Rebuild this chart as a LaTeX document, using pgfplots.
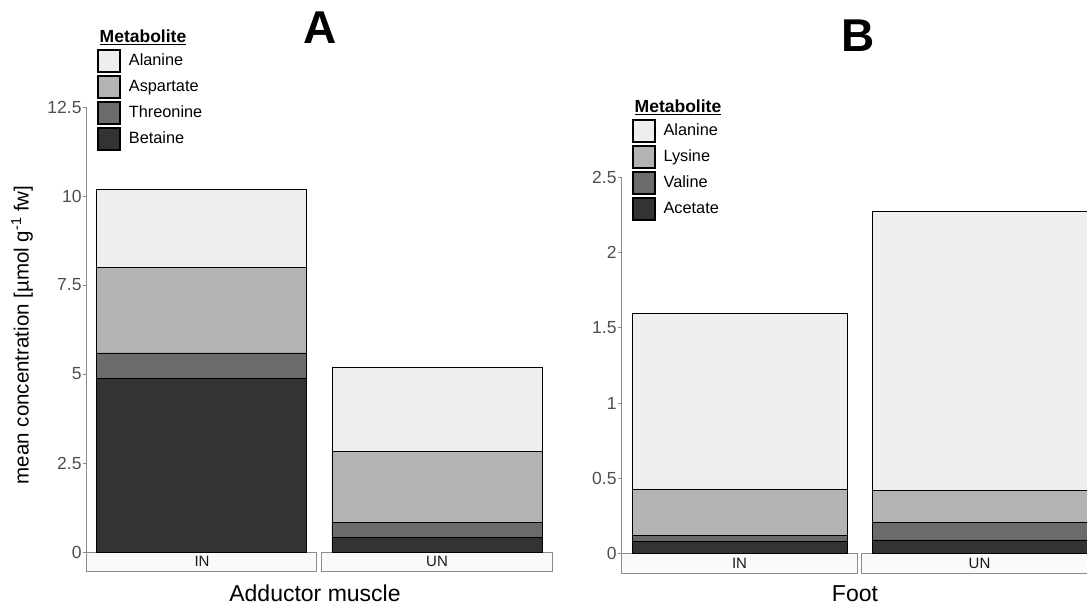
\documentclass[border=0pt]{standalone}
\usepackage{fontspec}
\setmainfont{Liberation Sans}
\usepackage{pgfplots}
\pgfplotsset{compat=1.18}

\definecolor{ala}{HTML}{EEEEEE}
\definecolor{mid}{HTML}{B3B3B3}
\definecolor{dk}{HTML}{6B6B6B}
\definecolor{vdk}{HTML}{333333}
\definecolor{axgray}{HTML}{8C8C8C}
\definecolor{ticktext}{HTML}{4D4D4D}
\definecolor{stripfill}{HTML}{FAFAFA}
\definecolor{striptext}{HTML}{1A1A1A}

\newcommand{\ticksize}{\fontsize{17.5}{20}\selectfont}
\newcommand{\legsize}{\fontsize{16.3}{19}\selectfont}
\newcommand{\labsize}{\fontsize{20.5}{24}\selectfont}
\newcommand{\xlabsize}{\fontsize{23}{27}\selectfont}
\newcommand{\stripsize}{\fontsize{15}{17}\selectfont}

\tikzset{
  strip/.style={draw=axgray, fill=stripfill, line width=0.8pt},
  striplab/.style={font=\stripsize, text=striptext, inner sep=0pt},
}

\pgfplotsset{
  panel/.style={
    scale only axis, anchor=south west,
    ybar stacked, ymin=0, enlargelimits=false,
    axis x line=none, axis y line*=left,
    y axis line style={axgray, line width=0.8pt},
    ytick style={axgray, line width=0.8pt},
    tick align=outside, major tick length=3.5pt,
    yticklabel style={font=\ticksize, text=ticktext, inner sep=1.5pt},
    /pgf/number format/assume math mode=true,
    clip=false,
    every axis plot/.append style={draw=black, line width=0.8pt},
    reverse legend, legend cell align=left,
    legend style={draw=none, fill=none, inner sep=0pt, row sep=2pt,
      column sep=8pt, font=\legsize, nodes={inner sep=0pt}},
    legend image code/.code={
      \draw[#1, draw=black, line width=2pt] (0pt,-11.5pt) rectangle (21.7pt,10.5pt);},
  },
}

\begin{document}
\begin{tikzpicture}
\useasboundingbox (0,0) rectangle (1087pt,605pt);

% panel A: adductor muscle
\begin{axis}[panel, at={(86.7pt,53pt)}, width=465.3pt, height=445pt,
  xmin=0.5106, xmax=2.4894, ymax=12.5, ytick={0,2.5,5,7.5,10,12.5},
  bar width=210pt,
  ylabel={mean concentration [µmol g\textsuperscript{-1} fw]},
  ylabel style={font=\labsize, at={(axis description cs:-0.139,0.488)}, anchor=center},
  legend style={at={(axis description cs:0.0221,1.1303)}, anchor=north west}]
\addplot[fill=vdk] coordinates {(1,4.88) (2,0.40)};
\addplot[fill=dk] coordinates {(1,0.71) (2,0.43)};
\addplot[fill=mid] coordinates {(1,2.40) (2,2.00)};
\addplot[fill=ala] coordinates {(1,2.20) (2,2.36)};
\legend{Betaine,Threonine,Aspartate,Alanine}
\draw[strip] (axis cs:0.5106,0) rectangle ([yshift=-19.3pt]axis cs:1.4894,0);
\draw[strip] (axis cs:1.5106,0) rectangle ([yshift=-19.3pt]axis cs:2.4894,0);
\end{axis}

% panel B: foot
\begin{axis}[panel, at={(621.7pt,51.3pt)}, width=475.7pt, height=376.4pt,
  xmin=0.509, xmax=2.491, ymax=2.5, ytick={0,0.5,1,1.5,2,2.5},
  bar width=215pt,
  legend style={at={(axis description cs:0.021,1.1549)}, anchor=north west}]
\addplot[fill=vdk] coordinates {(1,0.080) (2,0.091)};
\addplot[fill=dk] coordinates {(1,0.044) (2,0.117)};
\addplot[fill=mid] coordinates {(1,0.300) (2,0.215)};
\addplot[fill=ala] coordinates {(1,1.175) (2,1.853)};
\legend{Acetate,Valine,Lysine,Alanine}
\draw[strip] (axis cs:0.509,0) rectangle ([yshift=-19.6pt]axis cs:1.491,0);
\draw[strip] (axis cs:1.509,0) rectangle ([yshift=-19.6pt]axis cs:2.491,0);
\end{axis}

% strip labels
\node[striplab] at (202pt,43.35pt) {IN};
\node[striplab] at (437pt,43.35pt) {UN};
\node[striplab] at (739.5pt,41.5pt) {IN};
\node[striplab] at (979.5pt,41.5pt) {UN};

% titles and labels
\node[font=\bfseries\fontsize{46}{50}\selectfont, inner sep=0pt] at (320pt,577.5pt) {A};
\node[font=\bfseries\fontsize{46}{50}\selectfont, inner sep=0pt] at (858.5pt,569.5pt) {B};
\node[font=\bfseries\fontsize{17.5}{20}\selectfont, inner sep=0pt, anchor=base west] at (99.5pt,562.3pt) {\underline{Metabolite}};
\node[font=\bfseries\fontsize{17.5}{20}\selectfont, inner sep=0pt, anchor=base west] at (634.5pt,492.3pt) {\underline{Metabolite}};
\node[font=\xlabsize, inner sep=0pt, anchor=base] at (315pt,3.3pt) {Adductor muscle};
\node[font=\xlabsize, inner sep=0pt, anchor=base] at (855pt,3.6pt) {Foot};
\end{tikzpicture}
\end{document}
